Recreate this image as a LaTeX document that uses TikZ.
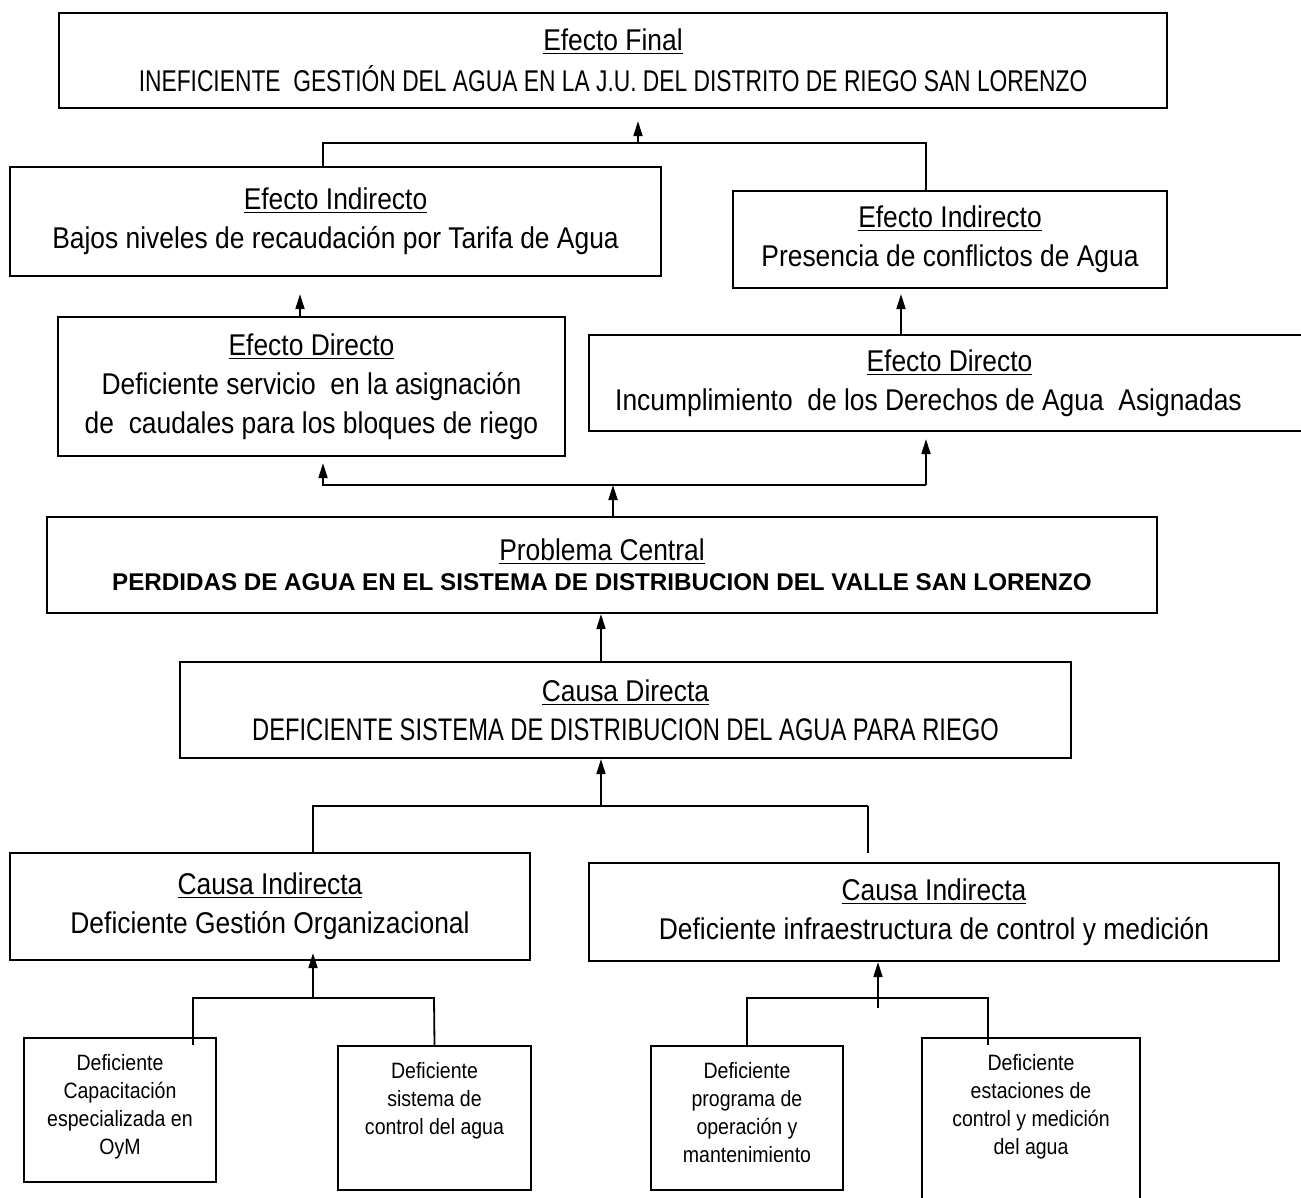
\documentclass[tikz,border=0pt]{standalone}
\usepackage{fontspec}
\setmainfont{Liberation Sans}[FakeStretch=0.88]
\newfontfamily\plainsans{Liberation Sans}
\newfontfamily\capsans{Liberation Sans}[FakeStretch=0.76]
\usetikzlibrary{arrows.meta,positioning}

\tikzset{
  box/.style={draw, line width=1.1pt, align=center, inner sep=0pt,
    font=\fontsize{15}{19.5}\selectfont},
  smallbox/.style={draw, line width=1.1pt, inner sep=0pt},
  smalltxt/.style={align=center, inner sep=0pt, font=\fontsize{11.1}{14}\selectfont},
  link/.style={line width=0.9pt},
  arrow/.style={line width=0.9pt, -{Triangle[length=7.5pt,width=4.5pt]}}
}

\begin{document}
\begin{tikzpicture}[x=0.5pt,y=-0.5pt]

\useasboundingbox (0,0) rectangle (1301,1198);
\clip (0,0) rectangle (1301,1198);

% Effects
\node[box, minimum width=554pt, minimum height=47.5pt] (final) at (613,60.5)
  {\underline{Efecto Final}\\[1pt]
   {\capsans\fontsize{15}{20}\selectfont INEFICIENTE\ \ GESTIÓN DEL AGUA EN LA J.U. DEL DISTRITO DE RIEGO SAN LORENZO}};

\node[box, minimum width=325.5pt, minimum height=54.5pt] (indL) at (335.5,221.5)
  {\underline{Efecto Indirecto}\\ Bajos niveles de recaudación por Tarifa de Agua};

\node[box, minimum width=217pt, minimum height=48.5pt] (indR) at (950,239.5)
  {\underline{Efecto Indirecto}\\ Presencia de conflictos de Agua};

\node[box, minimum width=253.5pt, minimum height=69.5pt] (dirL) at (311.5,386.5)
  {\underline{Efecto Directo}\\ Deficiente servicio\ \ en la asignación\\ de\ \ caudales para los bloques de riego};

\node[box, minimum width=360.5pt, minimum height=48pt] (dirR) at (949.5,383)
  {\underline{Efecto Directo}\\ \hspace*{-21pt}Incumplimiento\ \ de los Derechos de Agua\ \ Asignadas};

% Central problem
\node[box, minimum width=555pt, minimum height=48pt, font=\fontsize{15}{15}\selectfont] (central) at (602,565)
  {\underline{Problema Central}\\
   {\plainsans\bfseries\fontsize{12.1}{15}\selectfont PERDIDAS DE AGUA EN EL SISTEMA DE DISTRIBUCION DEL VALLE SAN LORENZO}};

% Causes
\node[box, minimum width=445.5pt, minimum height=48pt] (causaD) at (625.5,710)
  {\underline{Causa Directa}\\
   {\capsans\fontsize{15.6}{19.5}\selectfont DEFICIENTE SISTEMA DE DISTRIBUCION DEL AGUA PARA RIEGO}};

\node[box, minimum width=260pt, minimum height=53.5pt] (indCL) at (270,906.5)
  {\underline{Causa Indirecta}\\ Deficiente Gestión Organizacional};

\node[box, minimum width=345pt, minimum height=49pt] (indCR) at (934,912)
  {\underline{Causa Indirecta}\\ Deficiente infraestructura de control y medición};

% Small boxes
\node[smallbox, minimum width=96pt, minimum height=72pt] (s1) at (120,1110) {};
\node[smallbox, minimum width=96.5pt, minimum height=72pt] (s2) at (434.5,1118) {};
\node[smallbox, minimum width=96pt, minimum height=72pt] (s3) at (747,1118) {};
\node[smallbox, minimum width=109pt, minimum height=88.5pt] (s4) at (1031,1126.5) {};

\node[smalltxt, below=8.5pt of s1.north] (s1t) {Deficiente\\ Capacitación\\ especializada en\\ OyM};
\node[smalltxt, below=8.5pt of s2.north] (s2t) {Deficiente\\ sistema de\\ control del agua};
\node[smalltxt, below=8.5pt of s3.north] (s3t) {Deficiente\\ programa de\\ operación y\\ mantenimiento};
\node[smalltxt, below=8.5pt of s4.north] (s4t) {Deficiente\\ estaciones de\\ control y medición\\ del agua};

% Junction points
\coordinate (jTopL) at (323,143);
\coordinate (jTopR) at (926,143);
\coordinate (jTopM) at (638,143);
\coordinate (jDL) at (300,300);
\coordinate (jDR) at (901,300);
\coordinate (jMidL) at (323,485);
\coordinate (jMidR) at (926,485);
\coordinate (jMidM) at (613,485);
\coordinate (jCD) at (601,806);
\coordinate (jLowL) at (313,806);
\coordinate (jLowR) at (868,806);
\coordinate (jS1) at (193,998);
\coordinate (jS2) at (434,998);
\coordinate (jSL) at (313,998);
\coordinate (jS3) at (747,998);
\coordinate (jS4) at (988,998);
\coordinate (jSR) at (878,1008);

% Effect tree
\draw[link] (indL.north -| jTopL) |- (jTopR) -- (indR.north -| jTopR);
\draw[arrow, shorten >=6pt] (jTopM) -- (final.south -| jTopM);
\draw[arrow, shorten >=8.5pt] (dirL.north -| jDL) -- (indL.south -| jDL);
\draw[arrow, shorten >=2.5pt] (dirR.north -| jDR) -- (indR.south -| jDR);
\draw[arrow, shorten >=3pt] (jMidR) -- (jMidL) -- (dirL.south -| jMidL);
\draw[arrow, shorten >=3.5pt] (jMidR) -- (dirR.south -| jMidR);
\draw[arrow] (central.north -| jMidM) -- (jMidM);

% Cause tree
\draw[arrow] (causaD.north -| jCD) -- (central.south -| jCD);
\draw[arrow] (jCD) -- (causaD.south -| jCD);
\draw[link] (indCL.north -| jLowL) |- (jLowR);
\draw[link, shorten >=4.5pt] (jLowR) -- (indCR.north -| jLowR);

\draw[link] ([yshift=-4pt]s1.north -| jS1) |- (jS2) -- (s2.north);
\draw[arrow, shorten >=-4pt] (jSL) -- (indCL.south -| jSL);
\draw[link] (s3.north) |- (jS4) -- ([yshift=-4pt]s4.north -| jS4);
\draw[arrow] (jSR) -- (indCR.south -| jSR);

\end{tikzpicture}
\end{document}
